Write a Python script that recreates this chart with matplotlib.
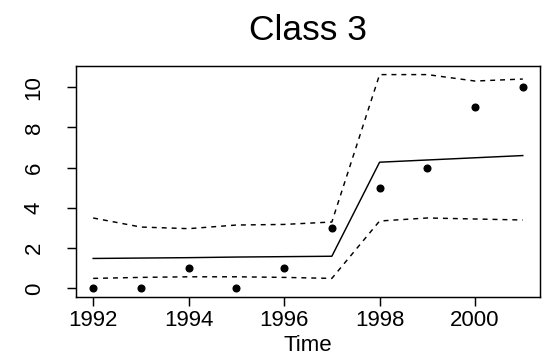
import numpy as np
import matplotlib.pyplot as plt

plt.rcParams['font.family'] = ['Liberation Sans', 'DejaVu Sans']

# yearly counts with fitted mean and upper/lower bands
years = np.arange(1992, 2002)
observed = [0, 0, 1, 0, 1, 3, 5, 6, 9, 10]
fitted = [1.49, 1.51, 1.53, 1.56, 1.58, 1.60, 6.27, 6.38, 6.49, 6.60]
upper = [3.50, 3.05, 2.97, 3.15, 3.18, 3.30, 10.62, 10.62, 10.30, 10.40]
lower = [0.50, 0.55, 0.58, 0.58, 0.55, 0.50, 3.35, 3.50, 3.45, 3.40]

fig = plt.figure(figsize=(5.45, 3.57), dpi=100)
ax = fig.add_axes([0.1394, 0.168, 0.8514, 0.647])

lw = 1.05
ax.plot(years, fitted, color='black', lw=lw)
ax.plot(years, upper, color='black', lw=lw, linestyle=(0, (3.4, 3.4)))
ax.plot(years, lower, color='black', lw=lw, linestyle=(0, (3.4, 3.4)))
ax.plot(years, observed, 'o', color='black', markersize=4.8)

# R-style 4% padding around the data range
lo = min(min(observed), min(lower))
hi = max(max(observed), max(upper))
pad = 0.04 * (hi - lo)
ax.set_ylim(lo - pad, hi + pad)
xpad = 0.04 * (years[-1] - years[0])
ax.set_xlim(years[0] - xpad, years[-1] + xpad)

ax.set_xticks([1992, 1994, 1996, 1998, 2000])
ax.set_yticks([0, 2, 4, 6, 8, 10])
ax.tick_params(axis='both', direction='out', length=6.5, width=lw,
               labelsize=16, color='black')
ax.tick_params(axis='x', pad=3)
ax.tick_params(axis='y', pad=16)
for lab in ax.get_yticklabels():
    lab.set_rotation(90)
    lab.set_va('center')

for s in ax.spines.values():
    s.set_linewidth(lw)

ax.set_xlabel('Time', fontsize=16, labelpad=3)
# title centred over the plot region, not the whole figure
fig.suptitle('Class 3', fontsize=25.5, x=0.1394 + 0.8514 / 2, y=0.96)

fig.savefig('out.png', dpi=100)
